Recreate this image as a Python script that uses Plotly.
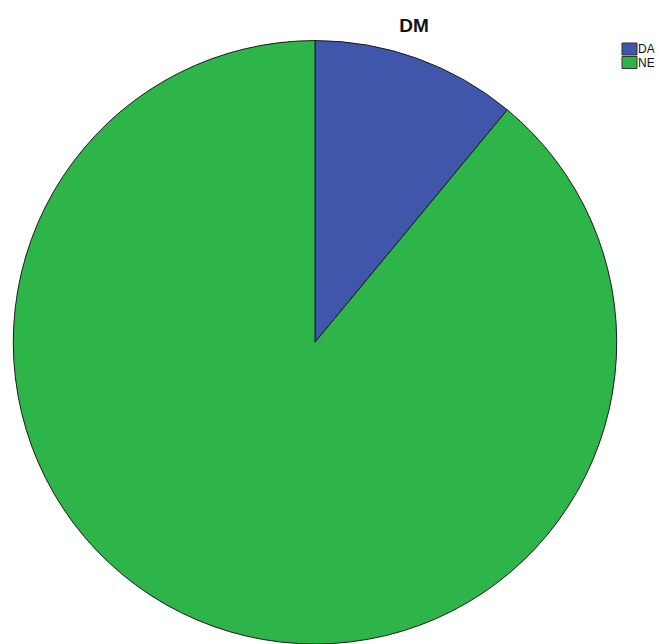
import plotly.graph_objects as go

categories = ["DA", "NE"]
values = [11, 89]
colors = ["#3F56AA", "#2EB54A"]

fig = go.Figure(go.Pie(
    labels=categories,
    values=values,
    sort=False,
    direction="clockwise",
    rotation=0,
    textinfo="none",
    hoverinfo="label+value+percent",
    showlegend=False,
    marker=dict(colors=colors, line=dict(color="#1a1a1a", width=1)),
    domain=dict(x=[12/659, 618/659], y=[0.0, 0.937]),
))

# legend drawn as swatches + text
font = dict(family="Arial, Liberation Sans", size=12, color="#111111")
for i, (lab, col) in enumerate(zip(categories, colors)):
    y_top = 43 + i * 13.5
    fig.add_shape(type="rect", xref="paper", yref="paper",
                  x0=622/659, x1=637/659, y0=1 - y_top/644, y1=1 - (y_top + 12)/644,
                  fillcolor=col, line=dict(color="#333333", width=1))
    fig.add_annotation(text=lab, xref="paper", yref="paper",
                       x=637/659, y=1 - (y_top + 6.5)/644, xanchor="left", yanchor="middle",
                       height=12, borderpad=0,
                       showarrow=False, font=font)

fig.update_layout(
    width=659, height=644,
    margin=dict(l=0, r=0, t=0, b=0),
    paper_bgcolor="white",
    plot_bgcolor="white",
    showlegend=False,
    title=dict(text="<b>DM</b>", x=414/659, xanchor="center", y=1-25/644, yanchor="middle",
               font=dict(family="Arial, Liberation Sans", size=19, color="#111111")),
)

fig.write_html("out.html", config={"displayModeBar": False},
               post_script="document.body.style.margin='0';document.body.style.overflow='hidden';")
